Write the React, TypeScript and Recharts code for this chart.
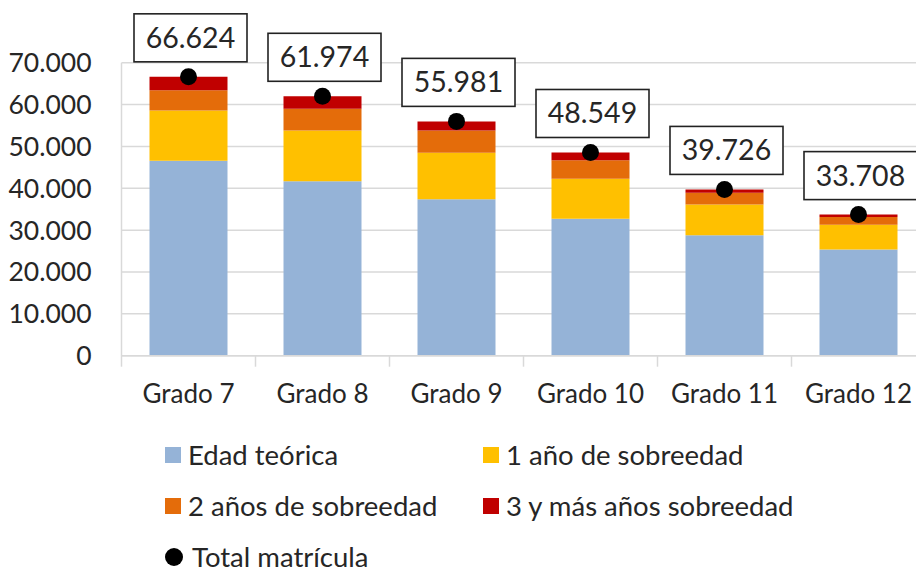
import {
  ComposedChart,
  Bar,
  Line,
  XAxis,
  YAxis,
  CartesianGrid,
  Legend,
  LabelList,
} from "recharts";

const GRADES = ["Grado 7", "Grado 8", "Grado 9", "Grado 10", "Grado 11", "Grado 12"];
const EDAD_TEORICA = [46600, 41700, 37400, 32700, 28800, 25400];
const UN_ANO = [12000, 12100, 11100, 9600, 7300, 5900];
const DOS_ANOS = [4800, 5200, 5300, 4400, 2850, 1850];
const TRES_MAS = [3224, 2974, 2181, 1849, 776, 558];
const TOTAL = [66624, 61974, 55981, 48549, 39726, 33708];
const Y_TICKS = [0, 10000, 20000, 30000, 40000, 50000, 60000, 70000];

const FONT = "Lato, 'Open Sans', sans-serif";
const TEXT = "#262626";
const GRID = "#d9d9d9";

const SERIES = [
  { key: "edad", name: "Edad teórica", color: "#95b3d7" },
  { key: "uno", name: "1 año de sobreedad", color: "#ffc000" },
  { key: "dos", name: "2 años de sobreedad", color: "#e46c0a" },
  { key: "tres", name: "3 y más años sobreedad", color: "#c00000" },
];
const TOTAL_NAME = "Total matrícula";
const LEGEND_ORDER = [...SERIES.map((s) => s.name), TOTAL_NAME];

const data = GRADES.map((g, i) => ({
  grade: g,
  edad: EDAD_TEORICA[i],
  uno: UN_ANO[i],
  dos: DOS_ANOS[i],
  tres: TRES_MAS[i],
  total: TOTAL[i],
}));

const fmt = (v: number) => String(v).replace(/\B(?=(\d{3})+(?!\d))/g, ".");

const CategoryTick = (props: any) => {
  const { x, y, payload, index, visibleTicksCount } = props;
  const half = payload?.offset ?? 67;
  return (
    <g>
      <line x1={x - half} y1={y} x2={x - half} y2={y + 11} stroke={GRID} strokeWidth={1.5} />
      {index === visibleTicksCount - 1 && (
        <line x1={x + half} y1={y} x2={x + half} y2={y + 11} stroke={GRID} strokeWidth={1.5} />
      )}
      <text x={x} y={y + 47.5} textAnchor="middle" fill={TEXT} fontSize={26} fontFamily={FONT}>
        {payload.value}
      </text>
    </g>
  );
};

const TotalLabel = (props: any) => {
  const { x, y, value } = props;
  const w = 113;
  const h = 48;
  const cx = x + 2;
  const cy = y - 39;
  return (
    <g>
      <rect x={cx - w / 2} y={cy - h / 2} width={w} height={h} fill="#fff" stroke="#222" strokeWidth={1.6} />
      <text x={cx} y={cy + 10} textAnchor="middle" fill={TEXT} fontSize={28.5} fontFamily={FONT}>
        {fmt(value)}
      </text>
    </g>
  );
};

const LegendBox = (props: any) => {
  const items = [...(props.payload || [])].sort(
    (a: any, b: any) => LEGEND_ORDER.indexOf(a.value) - LEGEND_ORDER.indexOf(b.value)
  );
  return (
    <div
      style={{
        display: "grid",
        gridTemplateColumns: "318px 340px",
        gridAutoRows: "51px",
        fontFamily: FONT,
        fontSize: 27.5,
        color: TEXT,
        whiteSpace: "nowrap",
      }}
    >
      {items.map((it: any) => (
        <div key={it.value} style={{ display: "flex", alignItems: "center" }}>
          {it.type === "circle" ? (
            <svg width={18} height={18} style={{ marginRight: 9, flexShrink: 0 }}>
              <circle cx={9} cy={9} r={9} fill="#000" />
            </svg>
          ) : (
            <span
              style={{
                display: "inline-block",
                width: 16,
                height: 16,
                background: it.color,
                marginRight: 7,
                flexShrink: 0,
              }}
            />
          )}
          <span>{it.value}</span>
        </div>
      ))}
    </div>
  );
};

export default function App() {
  return (
    <div
      style={{
        position: "absolute",
        left: 0,
        top: 0,
        width: 916,
        height: 567,
        overflow: "hidden",
        background: "#fff",
      }}
    >
      <ComposedChart
        width={930}
        height={567}
        data={data}
        margin={{ top: 62.7, right: 4.5, left: 0, bottom: 181.3 }}
      >
        <CartesianGrid vertical={false} stroke={GRID} strokeWidth={1.5} />
        <XAxis
          dataKey="grade"
          height={30}
          axisLine={{ stroke: GRID, strokeWidth: 1.5 }}
          tickLine={false}
          tickSize={0}
          tickMargin={0}
          interval={0}
          tick={<CategoryTick />}
        />
        <YAxis
          width={121.5}
          domain={[0, 70000]}
          ticks={Y_TICKS}
          axisLine={{ stroke: GRID, strokeWidth: 1.5 }}
          tickLine={false}
          tickSize={0}
          tickMargin={30}
          tickFormatter={fmt}
          tick={{ fill: TEXT, fontSize: 26.5, fontFamily: FONT }}
        />
        {SERIES.map((s) => (
          <Bar
            key={s.key}
            dataKey={s.key}
            name={s.name}
            stackId="a"
            fill={s.color}
            barSize={78}
            isAnimationActive={false}
          />
        ))}
        <Line
          dataKey="total"
          name={TOTAL_NAME}
          stroke="none"
          legendType="circle"
          dot={{ r: 8.5, fill: "#000", stroke: "none" }}
          activeDot={false}
          isAnimationActive={false}
        >
          <LabelList dataKey="total" content={<TotalLabel />} />
        </Line>
        <Legend
          layout="horizontal"
          verticalAlign="middle"
          align="center"
          content={<LegendBox />}
          wrapperStyle={{ top: 429, left: 165, width: 660 }}
        />
      </ComposedChart>
    </div>
  );
}
